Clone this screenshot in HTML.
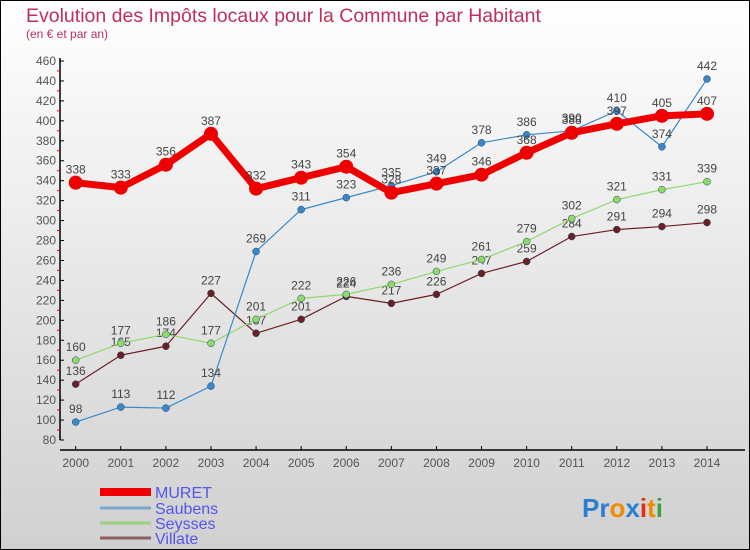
<!DOCTYPE html>
<html><head><meta charset="utf-8"><style>
body{margin:0}
#c{width:750px;height:550px;position:relative;overflow:hidden;font-family:"Liberation Sans","DejaVu Sans",sans-serif}
</style></head><body>
<div id="c">
<svg id="s" width="750" height="550" xmlns="http://www.w3.org/2000/svg">
<defs><linearGradient id="bg" x1="0" y1="0" x2="0" y2="1"><stop offset="0" stop-color="#ffffff"/><stop offset="1" stop-color="#d0d0d0"/></linearGradient></defs>
<rect x="0.5" y="0.5" width="749" height="549" fill="url(#bg)" stroke="#000"/>
<text x="26" y="22" font-size="19.5" fill="#c0305a">Evolution des Impôts locaux pour la Commune par Habitant</text>
<text x="26" y="38" font-size="12" fill="#c0305a">(en € et par an)</text>
<g id="axes"></g><g id="series"></g><g id="legend"></g>
<text x="582" y="517" font-size="26" font-weight="bold"><tspan fill="#2a7fd0">Pr</tspan><tspan fill="#f08a00">o</tspan><tspan fill="#2a7fd0">x</tspan><tspan fill="#e03010">i</tspan><tspan fill="#f08a00">t</tspan><tspan fill="#40a040">i</tspan></text>
</svg></div>
<script>
const years=[2000,2001,2002,2003,2004,2005,2006,2007,2008,2009,2010,2011,2012,2013,2014];
const muret=[338,333,356,387,332,343,354,328,337,346,368,388,397,405,407];
const saubens=[98,113,112,134,269,311,323,335,349,378,386,390,410,374,442];
const seysses=[160,177,186,177,201,222,226,236,249,261,279,302,321,331,339];
const villate=[136,165,174,227,187,201,224,217,226,247,259,284,291,294,298];
const yTicks=[80,100,120,140,160,180,200,220,240,260,280,300,320,340,360,380,400,420,440,460];
const NS="http://www.w3.org/2000/svg";
const X=i=>75.7+i*(707-75.7)/14;
const Y=v=>440-(v-80)*(440-61)/380;
function mk(t,a,p){const e=document.createElementNS(NS,t);for(const k in a)e.setAttribute(k,a[k]);p.appendChild(e);return e;}
const ax=document.getElementById('axes');
let yl=mk('line',{x1:60,y1:58,x2:60,y2:440,stroke:'#000','stroke-width':1.5},ax);


yTicks.forEach(v=>{const y=Y(v);
mk('line',{x1:60,y1:y,x2:64,y2:y,stroke:'#000'},ax);
if(v<460)mk('line',{x1:57,y1:y-10,x2:60,y2:y-10,stroke:'#e00'},ax);
const t=mk('text',{x:56,y:y+4,'font-size':12,fill:'#555','text-anchor':'end'},ax);t.textContent=v;

});
let xl=mk('line',{x1:60,y1:450,x2:745,y2:450,stroke:'#000','stroke-width':1.5},ax);


years.forEach((yr,i)=>{const x=X(i);
mk('line',{x1:x,y1:446,x2:x,y2:450,stroke:'#000'},ax);
const t=mk('text',{x:x,y:467,'font-size':12,fill:'#555','text-anchor':'middle'},ax);t.textContent=yr;

});
const sg=document.getElementById('series');
function draw(name,vals,col,w,r){
const g=mk('g',{},sg);


mk('polyline',{points:vals.map((v,i)=>X(i)+','+Y(v)).join(' '),fill:'none',stroke:col,'stroke-width':w,'stroke-linejoin':'round'},g);
vals.forEach((v,i)=>{const c=mk('circle',{cx:X(i),cy:Y(v),r:r,fill:col,stroke:w>3?col:'#246','stroke-width':w>3?0:0.5},g);


const t=mk('text',{x:X(i),y:Y(v)-9,'font-size':12,fill:'#444','text-anchor':'middle'},g);t.textContent=v;

});}
draw('villate',villate,'#6b1f24',1.2,3.5);
draw('seysses',seysses,'#8fd86a',1.2,3.5);
draw('saubens',saubens,'#3a88c8',1.2,3.5);
draw('muret',muret,'#ee0000',7,7);
const lg=document.getElementById('legend');
[['MURET','#ee0000',8,492],['Saubens','#7aa8cc',3,508],['Seysses','#9ad080',3,523],['Villate','#8a6060',3,538]].forEach(([n,c,w,y])=>{
const e=mk('g',{},lg);


mk('line',{x1:100,y1:y,x2:151,y2:y,stroke:c,'stroke-width':w},e);
const t=mk('text',{x:155,y:y+6,'font-size':16,fill:'#5555ee'},e);t.textContent=n;});
</script>
</body></html>
